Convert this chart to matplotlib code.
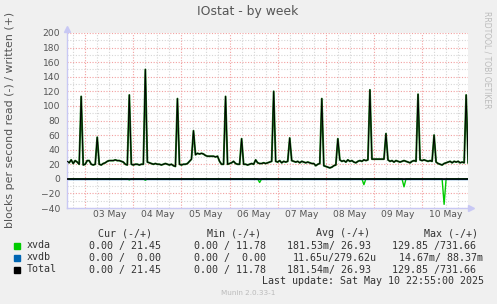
import matplotlib
matplotlib.use('Agg')
import matplotlib.pyplot as plt
from matplotlib.patches import Rectangle
import numpy as np

# hourly samples, hours since 02 May 00:00 (first sample 15:00)
start_hour = 14 + 55 / 60          # 02 May 14:55
end_hour = 8 * 24 + 22 + 55 / 60   # 10 May 22:55

# xvda blocks written per second, one value per hour
xvda_written = [
    24, 22, 26, 21, 25, 23, 20, 113,                                     # 02 May
    19, 20, 25, 25, 20, 19, 20, 57,
    20, 19, 21, 22, 24, 25, 25, 25, 26, 25, 25, 24, 23, 20, 19, 115,     # 03 May
    20, 19, 20, 20, 19, 20, 20, 150,
    23, 22, 21, 20, 21, 20, 20, 19, 20, 21, 20, 19, 20, 18, 17, 110,     # 04 May
    20, 19, 20, 20, 21, 24, 27, 66,
    33, 35, 34, 35, 34, 32, 31, 31, 31, 31, 30, 31, 24, 20, 20, 113,     # 05 May
    20, 21, 22, 24, 21, 20, 20, 55,
    20, 20, 19, 20, 21, 20, 26, 22, 21, 21, 22, 21, 22, 23, 24, 120,     # 06 May
    24, 23, 25, 22, 24, 23, 24, 56,
    25, 24, 23, 24, 22, 24, 23, 22, 23, 22, 21, 21, 18, 20, 21, 110,     # 07 May
    18, 17, 16, 15, 16, 18, 19, 55,
    26, 24, 25, 23, 26, 24, 25, 23, 22, 24, 25, 24, 26, 25, 26, 122,     # 08 May
    27, 27, 27, 27, 27, 27, 27, 62,
    26, 24, 25, 23, 25, 24, 23, 24, 25, 24, 23, 22, 24, 25, 24, 116,     # 09 May
    26, 25, 26, 25, 24, 25, 24, 60,
    23, 21, 20, 19, 21, 22, 23, 24, 22, 24, 23, 24, 22, 23, 22, 115,     # 10 May
    22,
]

# xvda blocks read per second (only a few non-zero hours)
read_index = [31, 39, 96, 148, 168, 188]
read_values = [1.5, 2, 5, 8, 11, 35]

n = len(xvda_written)
hours = np.arange(n) + 15.0
xvda_read = np.zeros(n)
xvda_read[read_index] = read_values
xvdb_written = np.zeros(n)
xvdb_read = np.zeros(n)
total_written = np.array(xvda_written) + xvdb_written

day_labels = ['03 May', '04 May', '05 May', '06 May', '07 May', '08 May', '09 May', '10 May']

legend_names = ['xvda', 'xvdb', 'Total']
legend_colors = ['#00CC00', '#0066B3', '#000000']
legend_cur = ['0.00 / 21.45', '0.00 /  0.00', '0.00 / 21.45']
legend_min = ['0.00 / 11.78', '0.00 /  0.00', '0.00 / 11.78']
legend_avg = ['181.53m/ 26.93', '11.65u/279.62u', '181.54m/ 26.93']
legend_max = ['129.85 /731.66', '14.67m/ 88.37m', '129.85 /731.66']

W, H = 497, 304
fig = plt.figure(figsize=(W / 100, H / 100), dpi=100, facecolor='#F0F0F0')
ax = fig.add_axes([67 / W, 96 / H, 401 / W, 175 / H])
ax.set_facecolor('white')


def fx(px):
    return px / W


def fy(py):
    return 1 - py / H


# grid
day_ticks = [24 * (k + 1) for k in range(len(day_labels))]
label_ticks = [d + 12 for d in day_ticks]
ax.set_xticks(day_ticks)
ax.set_xticks([h for h in range(18, 216, 6) if h % 24], minor=True)
ax.set_yticks(range(-40, 201, 20))
ax.set_yticks(range(-30, 200, 20), minor=True)
ax.grid(which='minor', color='#D6D6D6', linestyle=(0, (1, 1.5)), linewidth=0.8)
ax.grid(which='major', color='#F2A0A0', linestyle=(0, (1, 1.5)), linewidth=0.8)
ax.set_axisbelow(True)
ax.set_xticklabels([])
ax.tick_params(which='both', length=0)
ax.tick_params(axis='y', labelsize=6.6, labelcolor='#555555', pad=5)
for t, lab in zip(label_ticks, day_labels):
    ax.text(t, -43, lab, ha='center', va='top', fontsize=6.6, color='#555555')

# data
ax.plot(hours, -xvda_read, color='#00CC00', linewidth=1.0, zorder=2)
ax.plot(hours, xvda_written, color='#1E7A1E', linewidth=1.4, zorder=2)
ax.plot(hours, xvdb_written, color='#0066B3', linewidth=1, zorder=2)
ax.axhline(0, color='black', linewidth=1.2, zorder=3)
ax.plot(hours, total_written, color='black', linewidth=0.7, zorder=4)

ax.set_xlim(start_hour, end_hour)
ax.set_ylim(-40, 200)

for s in ['top', 'right']:
    ax.spines[s].set_visible(False)
for s in ['left', 'bottom']:
    ax.spines[s].set_color('#C8C8F4')
    ax.spines[s].set_linewidth(1)
ax.plot(0, 1.025, '^', color='#C8C8F4', ms=4, transform=ax.transAxes, clip_on=False)
ax.plot(1.008, 0, '>', color='#C8C8F4', ms=4, transform=ax.transAxes, clip_on=False)

# texts
fig.text(fx(248), fy(12), 'IOstat - by week', ha='center', va='center',
         fontsize=8.9, color='#555555')
fig.text(fx(10), fy(120), 'blocks per second read (-) / written (+)', rotation=90,
         ha='center', va='center', fontsize=7.9, color='#555555')
fig.text(fx(487), fy(60), 'RRDTOOL / TOBI OETIKER', rotation=270,
         ha='center', va='center', fontsize=5.5, color='#BBBBBB')

mono = dict(family='DejaVu Sans Mono', fontsize=7.2, color='#333333', va='center', ha='left')
headers = ['Cur (-/+)', 'Min (-/+)', 'Avg (-/+)', 'Max (-/+)']
for hx, h in zip([98, 207, 316, 423.5], headers):
    fig.text(fx(hx), fy(233.5), h, **mono)

row_y = [245.5, 257.5, 269.5]
avg_x = [287, 293, 287]
max_x = [392, 399, 392]
for i in range(3):
    fig.patches.append(Rectangle((fx(14), fy(row_y[i] + 3)), 6 / W, 6 / H,
                                 transform=fig.transFigure, color=legend_colors[i]))
    fig.text(fx(27), fy(row_y[i]), legend_names[i], **mono)
    fig.text(fx(89), fy(row_y[i]), legend_cur[i], **mono)
    fig.text(fx(194.5), fy(row_y[i]), legend_min[i], **mono)
    fig.text(fx(avg_x[i]), fy(row_y[i]), legend_avg[i], **mono)
    fig.text(fx(max_x[i]), fy(row_y[i]), legend_max[i], **mono)

fig.text(fx(262), fy(281.5), 'Last update: Sat May 10 22:55:00 2025', **mono)
fig.text(fx(248.5), fy(293), 'Munin 2.0.33-1', ha='center', va='center',
         fontsize=5.2, color='#BBBBBB')

fig.savefig('out.png', dpi=100, facecolor=fig.get_facecolor())
